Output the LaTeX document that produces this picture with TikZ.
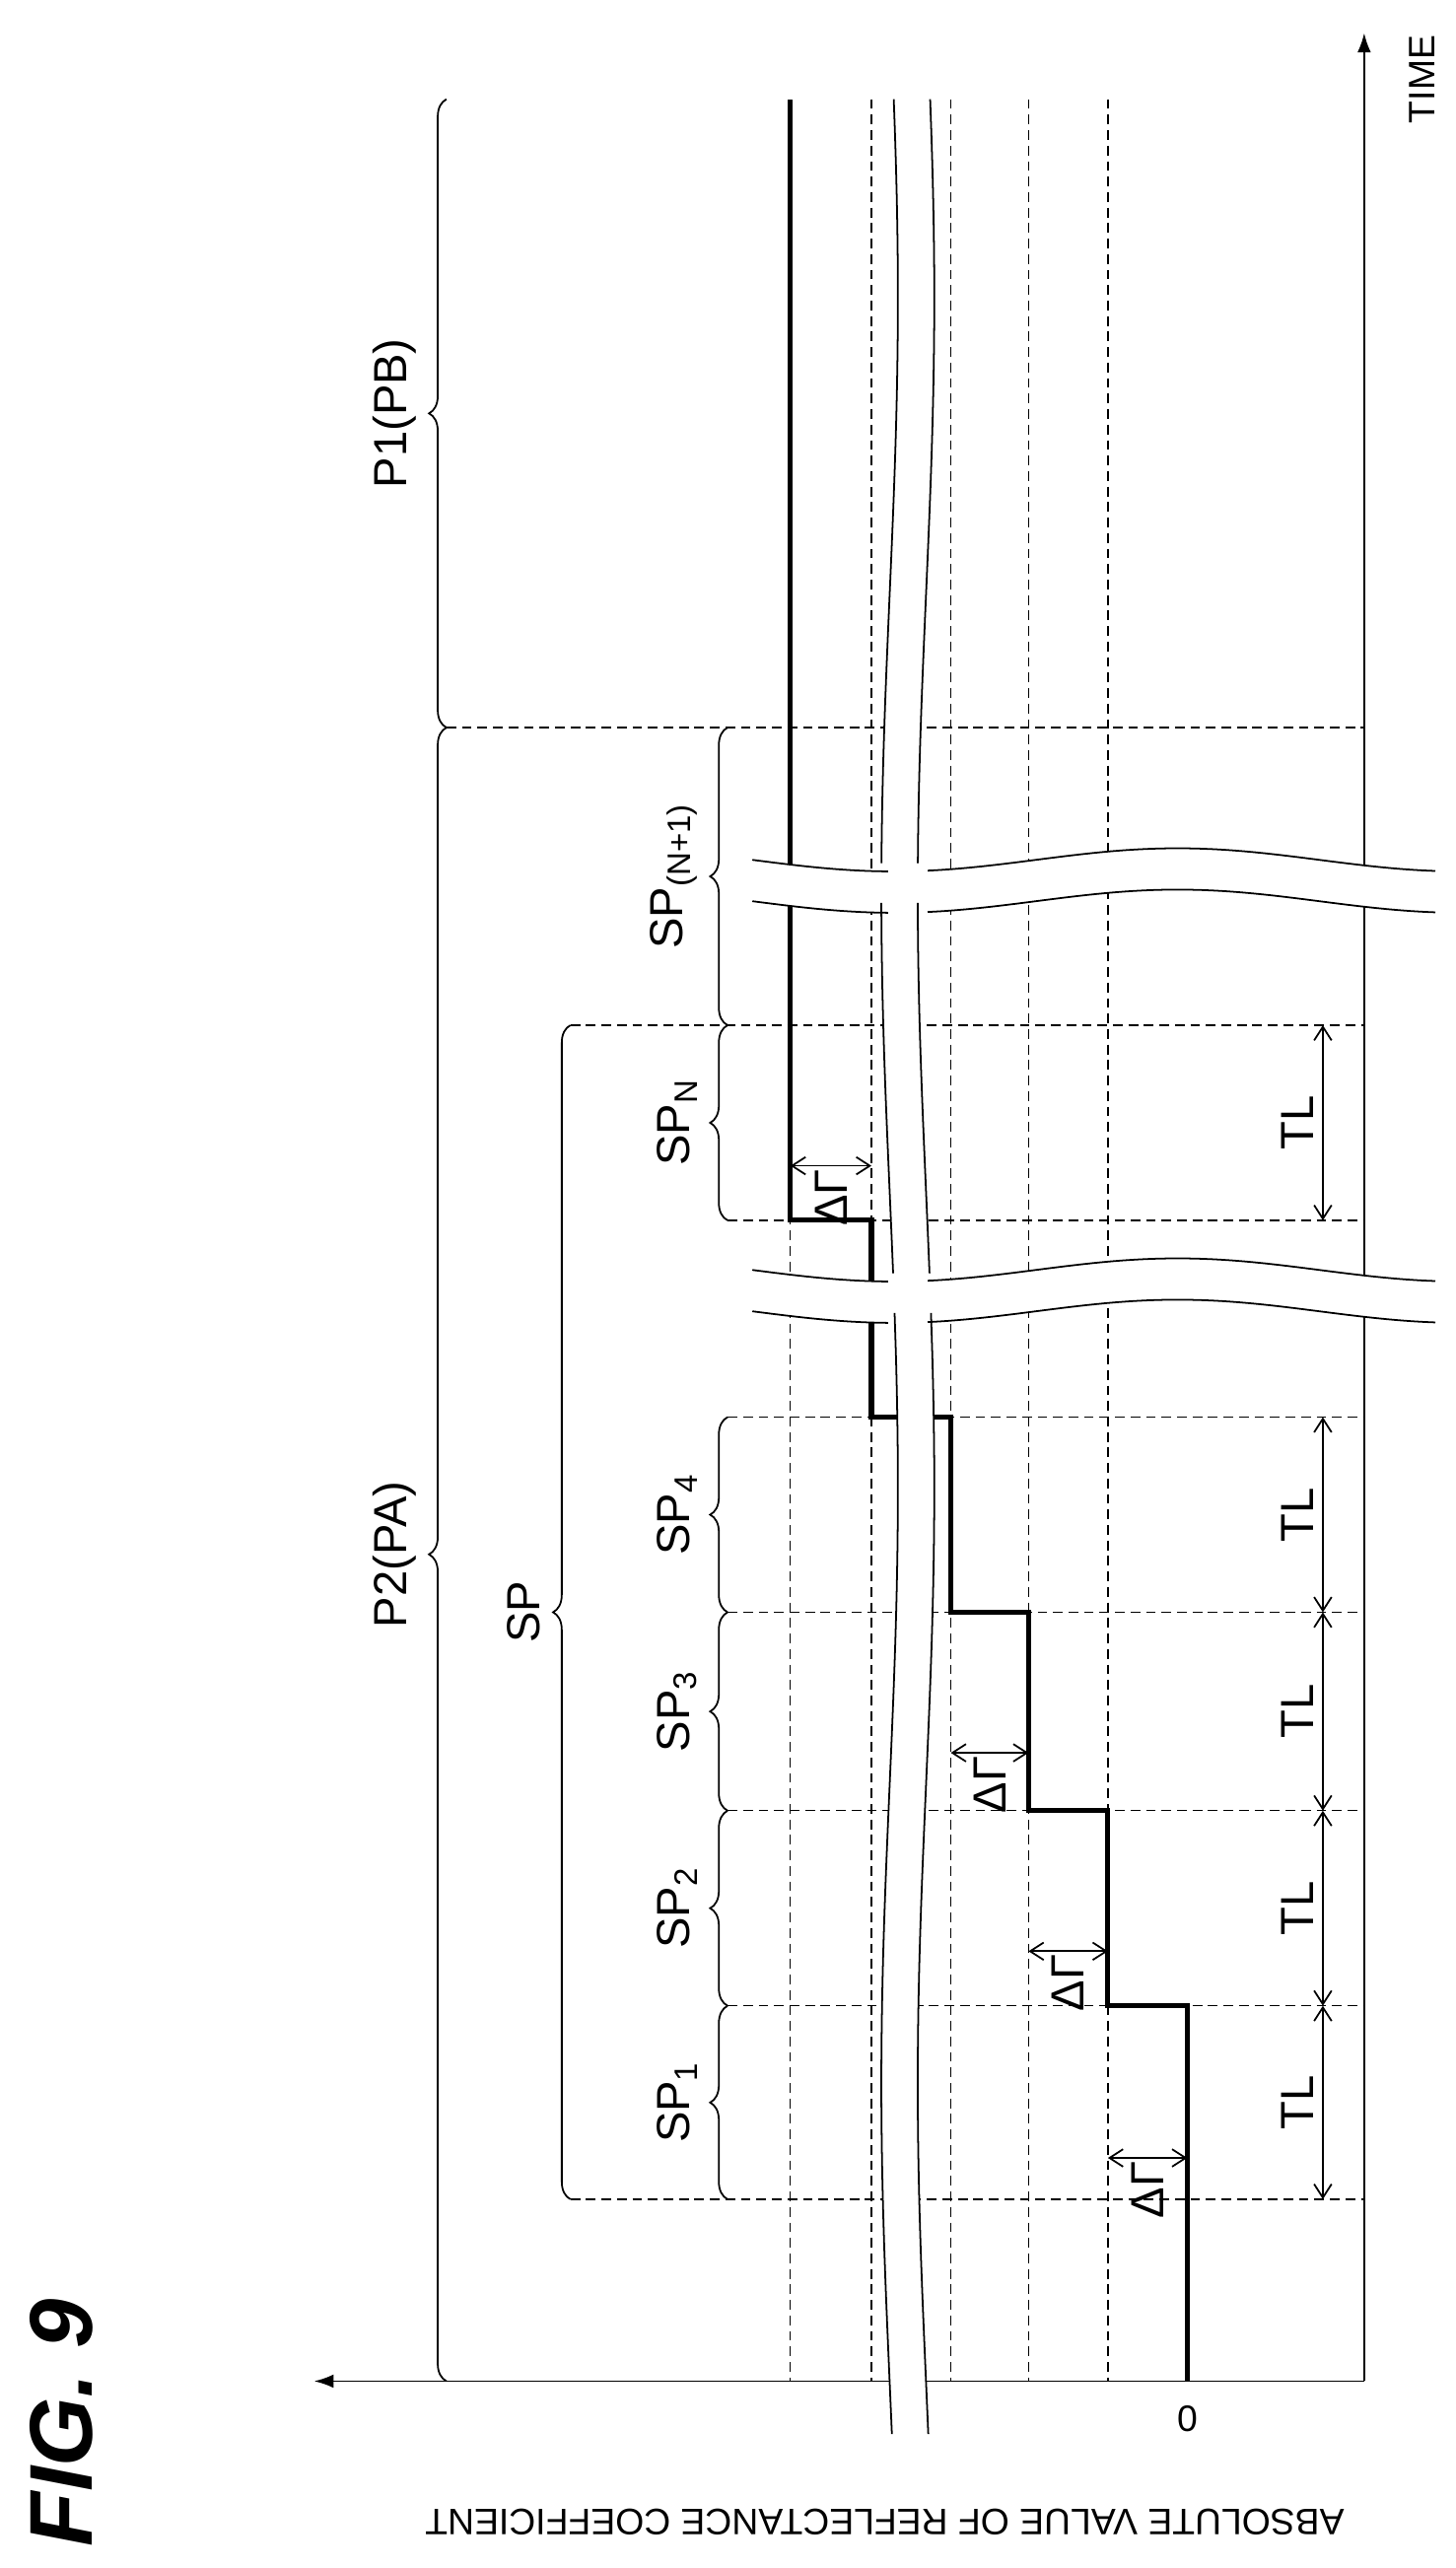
\documentclass[tikz,border=0pt]{standalone}
\usepackage{fontspec}
\setmainfont{Liberation Sans}
\usetikzlibrary{arrows.meta,decorations.pathreplacing}
\tikzset{
  every picture/.style={line width=0.9pt},
  grid line/.style={dashed,line width=0.7pt,dash pattern=on 5pt off 3pt},
  level line/.style={line width=2.6pt},
  span brace/.style={decorate,decoration={brace,amplitude=9pt},line width=0.9pt},
  tl arrow/.style={{Straight Barb[length=7pt,width=9pt]}-{Straight Barb[length=7pt,width=9pt]}},
  rlabel/.style={rotate=90,font=\fontsize{24}{28}\selectfont}
}
\begin{document}
\begin{tikzpicture}[x={(0.03cm,0)},y={(0,-0.03cm)}]
  \useasboundingbox (0,0) rectangle (880,1553);
  % grid
  \foreach \gx in {478,527,575,622,670}
    \draw[grid line] (\gx,60) -- (\gx,1440);
  \foreach \gy/\gl in {1330/345,1213/440,1095/440,975/440,857/440,738/440,620/345,440/270}
    \draw[grid line] (\gl,\gy) -- (825,\gy);
  % axes
  \coordinate (origin) at (825,1440);
  \coordinate (ytip) at (190,1440);
  \coordinate (ttip) at (825,20);
  \draw[-{Latex[length=10pt,width=7pt]}] (origin) -- (ytip);
  \draw[-{Latex[length=10pt,width=7pt]}] (origin) -- (ttip);
  \node[rotate=90,font=\fontsize{19}{22}\selectfont,anchor=north] (time) at (848,48) {TIME};
  \node[font=\fontsize{19}{22}\selectfont] (zero) at (718,1463) {0};
  \node[rotate=180,font=\fontsize{19}{22}\selectfont] (yaxis) at (535,1525) {ABSOLUTE VALUE OF REFLECTANCE COEFFICIENT};
  \node[rotate=90,font=\fontsize{46}{50}\selectfont\bfseries\itshape] (fig) at (37,1465) {FIG. 9};
  % staircase
  \draw[level line] (718,1440) -- (718,1213) -- (670,1213) -- (670,1095) -- (622,1095)
    -- (622,975) -- (575,975) -- (575,857) -- (527,857) -- (527,738) -- (478,738) -- (478,60);
  % breaks
  \fill[white] plot[smooth,domain=60:1472,samples=40,variable=\t] ({538+5*sin(\t*0.5)},\t)
    -- plot[smooth,domain=1472:60,samples=40,variable=\t] ({560+5*sin(\t*0.5)},\t) -- cycle;
  \foreach \by in {520,768} {
    \fill[white] plot[smooth,domain=455:868,samples=40,variable=\s] (\s,{\by+7*sin((\s-455)*1.05)})
      -- plot[smooth,domain=868:455,samples=40,variable=\s] (\s,{\by+25+7*sin((\s-455)*1.05)}) -- cycle;
    \foreach \oy in {0,25} {
      \draw plot[smooth,domain=455:537,samples=12,variable=\s] (\s,{\by+\oy+7*sin((\s-455)*1.05)});
      \draw plot[smooth,domain=561:868,samples=40,variable=\s] (\s,{\by+\oy+7*sin((\s-455)*1.05)});
    }
  }
  \foreach \ya/\yb in {60/522,546/770,794/1472} {
    \draw plot[smooth,domain=\ya:\yb,samples=25,variable=\t] ({538+5*sin(\t*0.5)},\t);
    \draw plot[smooth,domain=\ya:\yb,samples=25,variable=\t] ({560+5*sin(\t*0.5)},\t);
  }
  % braces
  \draw[span brace] (270,1440) -- (270,440) node[midway,left=12pt,rlabel,anchor=south] (pa) {P2(PA)};
  \draw[span brace] (270,440) -- (270,60) node[midway,left=12pt,rlabel,anchor=south] (pb) {P1(PB)};
  \draw[span brace] (345,1330) -- (345,620) node[midway,left=12pt,rlabel,anchor=south] (sp) {SP};
  \foreach \ya/\yb/\sname/\stxt in {1330/1213/sp1/SP\textsubscript{1},1213/1095/sp2/SP\textsubscript{2},
      1095/975/sp3/SP\textsubscript{3},975/857/sp4/SP\textsubscript{4},738/620/spn/SP\textsubscript{N},
      620/440/spnn/SP\textsubscript{(N+1)}}
    \draw[span brace] (440,\ya) -- (440,\yb) node[midway,left=12pt,rlabel,anchor=south] (\sname) {\stxt};
  % TL spans
  \foreach \ya/\yb/\tname in {1330/1213/tla,1213/1095/tlb,1095/975/tlc,975/857/tld,738/620/tle} {
    \coordinate (\tname-a) at (800,\ya);
    \coordinate (\tname-b) at (800,\yb);
    \draw[tl arrow] (\tname-a) -- (\tname-b) node[midway,left=1pt,rlabel,anchor=south] (\tname) {TL};
  }
  % delta gamma spans
  \foreach \xa/\xb/\dy/\dname in {670/718/1305/dga,622/670/1180/dgb,575/622/1060/dgc,478/527/705/dgd} {
    \coordinate (\dname-a) at (\xa,\dy);
    \coordinate (\dname-b) at (\xb,\dy);
    \draw[tl arrow] (\dname-a) -- (\dname-b) node[midway,above=2pt,rlabel,anchor=east] (\dname) {ΔΓ};
  }
\end{tikzpicture}
\end{document}
